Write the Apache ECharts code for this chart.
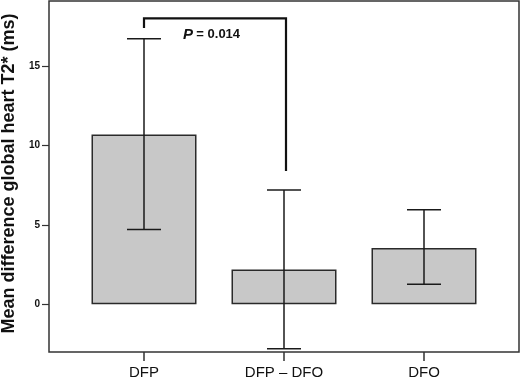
<!DOCTYPE html>
<html><head><meta charset="utf-8">
<script src="https://cdn.jsdelivr.net/npm/echarts@6/dist/echarts.min.js"></script>
<style>html,body{margin:0;padding:0;background:#fff}#c{width:520px;height:381px}</style>
</head><body><div id="c"></div>
<script>
const categories = ['DFP', 'DFP – DFO', 'DFO'];
const means = [10.7, 2.2, 3.55];
const lower = [4.72, -2.8, 1.26];
const upper = [16.72, 7.2, 5.96];
const yTicks = [0, 5, 10, 15];
const bracket = [[0, 1, 18.0, 17.4, 8.4]]; // from cat, to cat, top, left end, right end
const pLabel = '0.014';

const FONT = 'Liberation Sans, Arial, sans-serif';
const chart = echarts.init(document.getElementById('c'), null, {renderer: 'canvas'});
chart.setOption({
  animation: false,
  backgroundColor: '#fff',
  grid: [
    {left: 49, right: 1, top: 1, bottom: 29, show: true, borderColor: '#333', borderWidth: 1.5, backgroundColor: '#fff', containLabel: false, outerBoundsMode: 'none'},
    {left: 74, right: 26, top: 1, bottom: 29, containLabel: false, outerBoundsMode: 'none'}
  ],
  xAxis: [
    {type: 'value', gridIndex: 0, show: false, min: 0, max: 1},
    {type: 'category', gridIndex: 1, data: categories,
     axisLine: {show: false, onZero: false},
     axisTick: {show: true, alignWithLabel: true, length: 9, lineStyle: {color: '#333', width: 1.5}},
     axisLabel: {color: '#111', fontSize: 15, fontFamily: FONT, margin: 13}}
  ],
  yAxis: [
    {type: 'value', gridIndex: 0, min: -3, max: 19.1,
     axisLine: {show: false, onZero: false},
     splitLine: {show: false},
     axisTick: {show: true, length: 7, customValues: yTicks, lineStyle: {color: '#333', width: 1.2}},
     axisLabel: {customValues: yTicks, color: '#111', fontSize: 10, fontWeight: 'bold', fontFamily: FONT, margin: 9},
     name: 'Mean difference global heart T2* (ms)', nameLocation: 'middle', nameGap: 25,
     nameTextStyle: {fontSize: 18, fontWeight: 'bold', fontFamily: FONT, color: '#111', padding: [0, 0, 0, 6]}},
    {type: 'value', gridIndex: 1, min: -3, max: 19.1, show: false}
  ],
  series: [
    {type: 'bar', xAxisIndex: 1, yAxisIndex: 1, data: means, barWidth: 105,
     itemStyle: {color: '#c8c8c8', borderColor: '#2a2a2a', borderWidth: 1.5}},
    {type: 'custom', xAxisIndex: 1, yAxisIndex: 1, z: 5,
     data: categories.map((c, i) => [i, lower[i], upper[i]]),
     renderItem: function (params, api) {
       const lo = api.coord([api.value(0), api.value(1)]);
       const hi = api.coord([api.value(0), api.value(2)]);
       const hw = 17;
       const st = {stroke: '#1a1a1a', lineWidth: 1.5};
       return {type: 'group', children: [
         {type: 'line', shape: {x1: lo[0], y1: lo[1], x2: hi[0], y2: hi[1]}, style: st},
         {type: 'line', shape: {x1: lo[0] - hw, y1: lo[1], x2: lo[0] + hw, y2: lo[1]}, style: st},
         {type: 'line', shape: {x1: hi[0] - hw, y1: hi[1], x2: hi[0] + hw, y2: hi[1]}, style: st}
       ]};
     }},
    {type: 'custom', xAxisIndex: 1, yAxisIndex: 1, z: 6,
     data: bracket,
     renderItem: function (params, api) {
       const a = api.coord([api.value(0), api.value(2)]);
       const b = api.coord([api.value(1), api.value(2)]);
       const l = api.coord([api.value(0), api.value(3)]);
       const r = api.coord([api.value(1), api.value(4)]);
       return {type: 'group', children: [
         {type: 'polyline', shape: {points: [[l[0], l[1]], [a[0], a[1]], [b[0] + 2, b[1]], [b[0] + 2, r[1]]]},
          style: {stroke: '#111', lineWidth: 2.2, fill: null}},
         {type: 'text', x: a[0] + 39, y: a[1] + 16,
          style: {text: '{p|P} {n|= ' + pLabel + '}', verticalAlign: 'middle', align: 'left',
            rich: {p: {fontSize: 15, fontWeight: 'bold', fontStyle: 'italic', fontFamily: FONT, fill: '#111'},
                   n: {fontSize: 13, fontWeight: 'bold', fontFamily: FONT, fill: '#111'}}}}
       ]};
     }}
  ]
});
</script></body></html>
